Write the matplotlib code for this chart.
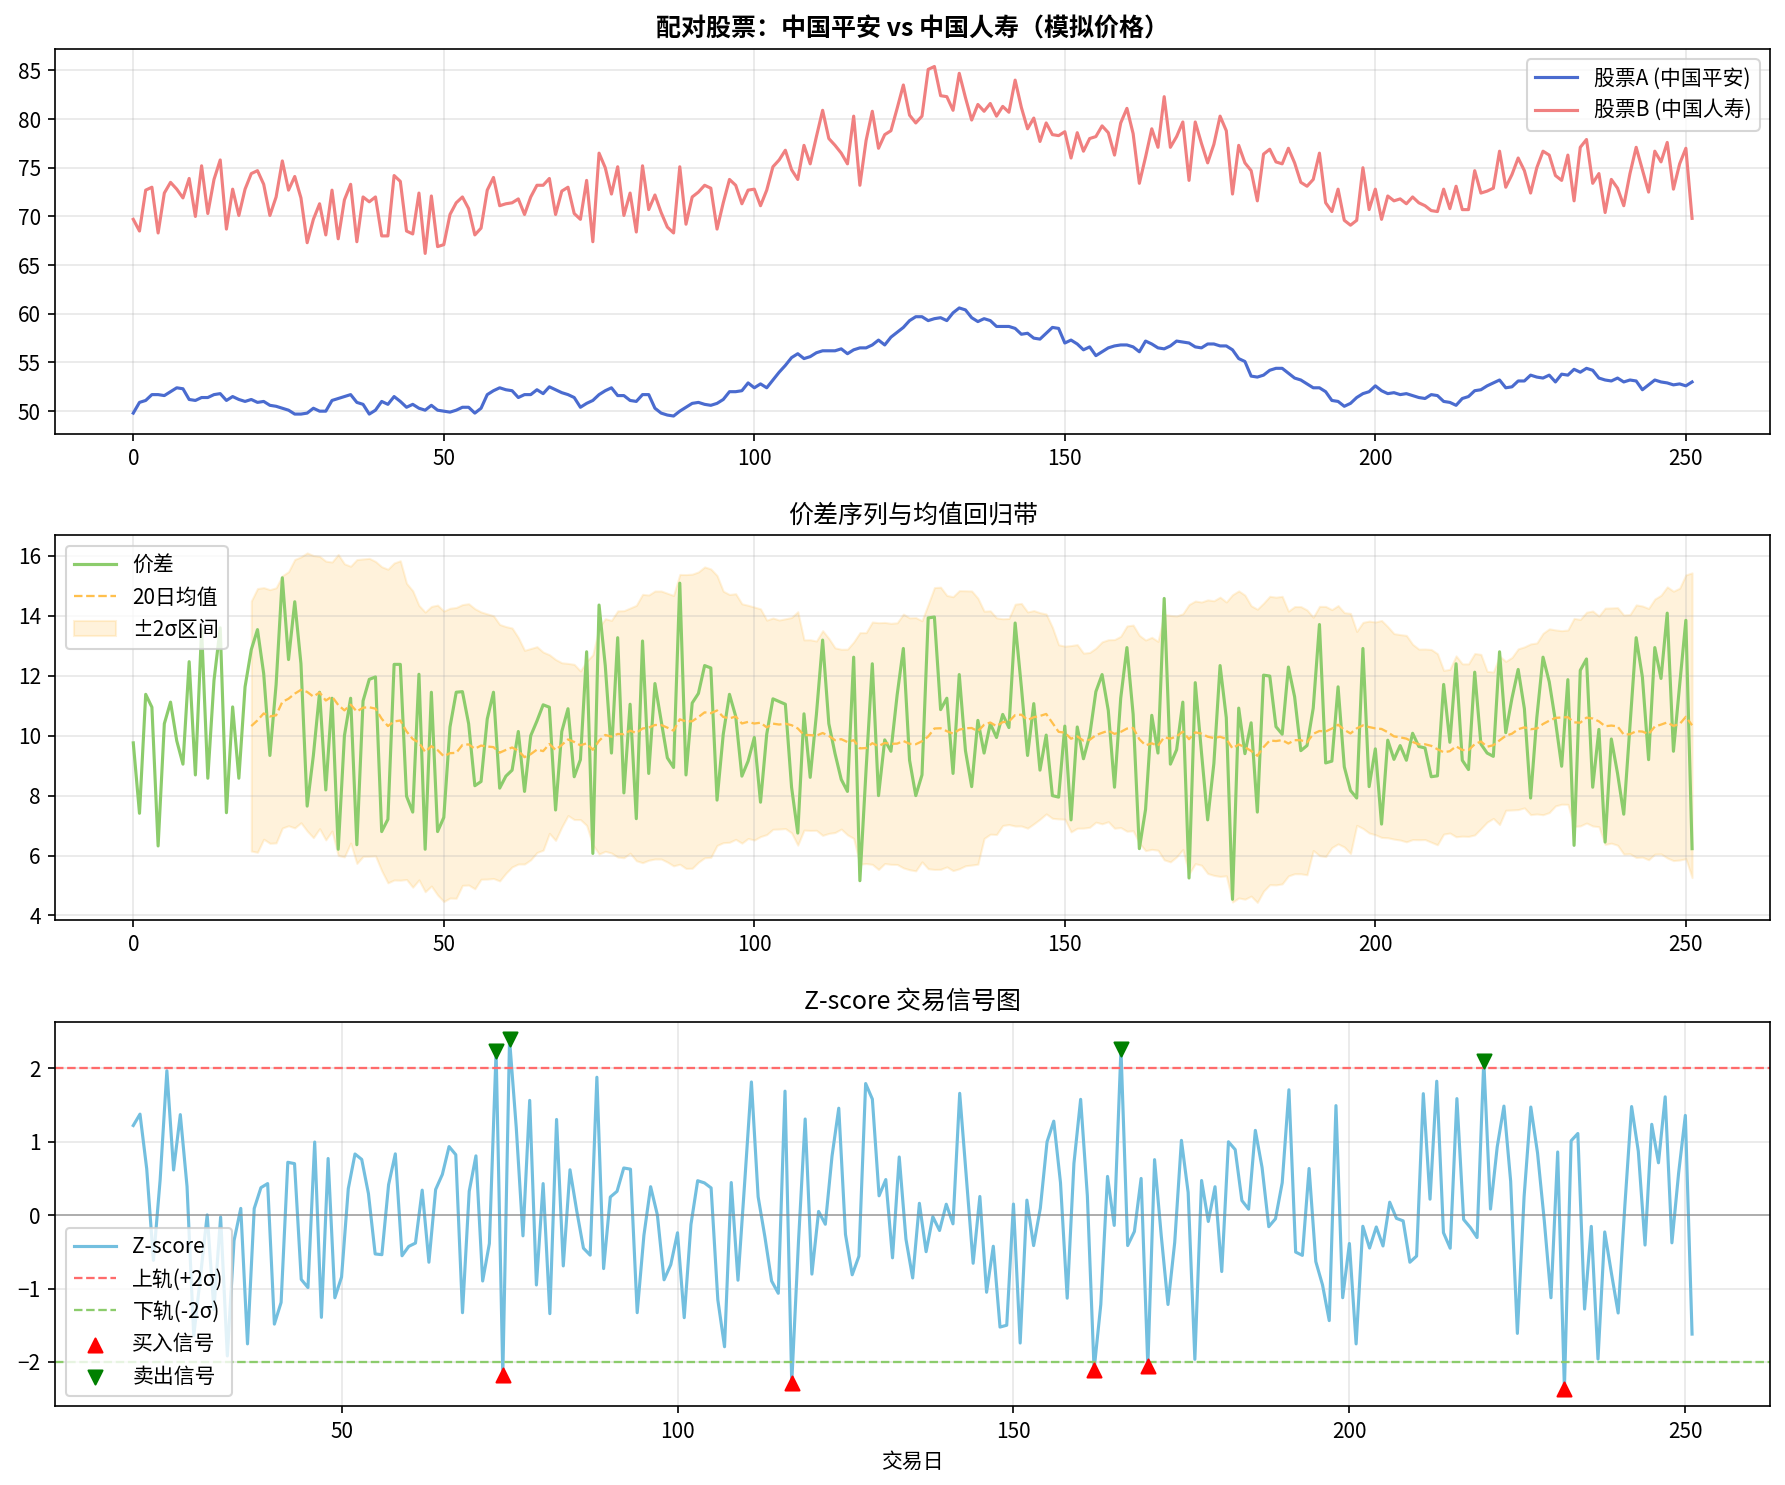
"""
Pair-trading chart: two simulated stock prices, spread band and z-score signals.
"""
import numpy as np
import pandas as pd
import matplotlib

matplotlib.use("Agg")
import matplotlib.pyplot as plt

plt.rcParams["font.family"] = ["Noto Sans CJK SC", "DejaVu Sans"]
plt.rcParams["axes.unicode_minus"] = True

# values (trading days 0..251)
stock_a = [
    49.8, 50.9, 51.1, 51.7, 51.7, 51.6, 52.0, 52.4, 52.3, 51.2,
    51.1, 51.4, 51.4, 51.7, 51.8, 51.1, 51.5, 51.2, 51.0, 51.2,
    50.9, 51.0, 50.6, 50.5, 50.3, 50.1, 49.7, 49.7, 49.8, 50.3,
    50.0, 50.0, 51.1, 51.3, 51.5, 51.7, 50.9, 50.7, 49.7, 50.1,
    51.0, 50.7, 51.5, 51.0, 50.4, 50.7, 50.3, 50.1, 50.6, 50.1,
    50.0, 49.9, 50.1, 50.4, 50.4, 49.8, 50.3, 51.7, 52.1, 52.4,
    52.2, 52.1, 51.4, 51.7, 51.7, 52.2, 51.8, 52.5, 52.2, 51.9,
    51.7, 51.4, 50.4, 50.8, 51.1, 51.7, 52.1, 52.4, 51.6, 51.6,
    51.1, 51.0, 51.7, 51.7, 50.3, 49.8, 49.6, 49.5, 50.0, 50.4,
    50.8, 50.9, 50.7, 50.6, 50.8, 51.2, 52.0, 52.0, 52.1, 52.9,
    52.4, 52.8, 52.4, 53.2, 54.0, 54.7, 55.5, 55.9, 55.4, 55.6,
    56.0, 56.2, 56.2, 56.2, 56.4, 55.9, 56.3, 56.5, 56.5, 56.8,
    57.3, 56.8, 57.6, 58.1, 58.6, 59.3, 59.7, 59.7, 59.3, 59.5,
    59.6, 59.3, 60.1, 60.6, 60.4, 59.6, 59.2, 59.5, 59.3, 58.7,
    58.7, 58.7, 58.5, 57.9, 58.0, 57.5, 57.4, 58.0, 58.6, 58.5,
    57.0, 57.3, 56.9, 56.3, 56.6, 55.7, 56.1, 56.5, 56.7, 56.8,
    56.8, 56.6, 56.1, 57.2, 56.9, 56.5, 56.4, 56.7, 57.2, 57.1,
    57.0, 56.6, 56.5, 56.9, 56.9, 56.7, 56.7, 56.3, 55.4, 55.1,
    53.6, 53.5, 53.7, 54.2, 54.4, 54.4, 53.9, 53.4, 53.2, 52.8,
    52.4, 52.4, 52.0, 51.1, 51.0, 50.5, 50.8, 51.4, 51.8, 52.0,
    52.6, 52.1, 51.8, 51.9, 51.7, 51.8, 51.6, 51.4, 51.3, 51.7,
    51.6, 51.0, 50.9, 50.6, 51.3, 51.5, 52.1, 52.2, 52.6, 52.9,
    53.2, 52.4, 52.5, 53.1, 53.1, 53.7, 53.5, 53.4, 53.7, 53.0,
    53.8, 53.7, 54.3, 54.0, 54.4, 54.2, 53.4, 53.2, 53.1, 53.4,
    53.0, 53.2, 53.1, 52.2, 52.7, 53.2, 53.0, 52.9, 52.7, 52.8,
    52.6, 53.0,
]

stock_b = [
    69.7, 68.5, 72.7, 73.0, 68.3, 72.4, 73.5, 72.8, 71.9, 73.9,
    70.0, 75.2, 70.3, 73.8, 75.8, 68.7, 72.8, 70.1, 72.8, 74.4,
    74.7, 73.3, 70.1, 72.0, 75.7, 72.7, 74.1, 71.9, 67.3, 69.7,
    71.3, 68.1, 72.7, 67.7, 71.7, 73.3, 67.4, 72.0, 71.5, 72.0,
    68.0, 68.0, 74.2, 73.6, 68.5, 68.2, 72.4, 66.2, 72.1, 66.9,
    67.1, 70.2, 71.4, 72.0, 70.8, 68.1, 68.8, 72.7, 74.0, 71.1,
    71.3, 71.4, 71.8, 70.2, 72.0, 73.2, 73.2, 73.9, 70.2, 72.6,
    73.0, 70.3, 69.7, 73.7, 67.4, 76.5, 75.0, 72.3, 75.1, 70.1,
    72.4, 68.4, 75.2, 70.7, 72.2, 70.4, 68.9, 68.3, 75.1, 69.2,
    72.0, 72.5, 73.2, 72.9, 68.7, 71.4, 73.8, 73.2, 71.3, 72.7,
    72.8, 71.1, 72.7, 75.1, 75.8, 76.8, 74.8, 73.8, 77.3, 75.4,
    78.2, 80.9, 78.0, 77.3, 76.5, 75.4, 80.3, 73.2, 77.8, 80.8,
    77.0, 78.4, 78.8, 81.1, 83.5, 80.4, 79.6, 80.3, 85.1, 85.4,
    82.4, 82.3, 80.9, 84.7, 82.2, 79.9, 81.5, 80.8, 81.6, 80.3,
    81.3, 80.7, 84.0, 81.2, 79.0, 80.1, 77.7, 79.6, 78.4, 78.3,
    78.7, 76.0, 78.6, 76.7, 78.0, 78.2, 79.3, 78.6, 76.3, 79.6,
    81.1, 78.5, 73.4, 76.1, 79.0, 77.1, 82.3, 77.1, 78.2, 79.7,
    73.7, 79.7, 77.5, 75.5, 77.4, 80.3, 78.8, 72.3, 77.3, 75.5,
    74.7, 71.6, 76.4, 76.9, 75.6, 75.4, 77.0, 75.5, 73.5, 73.1,
    73.8, 76.5, 71.4, 70.5, 72.8, 69.6, 69.1, 69.6, 75.0, 70.7,
    72.8, 69.7, 72.1, 71.6, 71.8, 71.3, 72.0, 71.4, 71.1, 70.6,
    70.5, 72.8, 70.8, 73.1, 70.7, 70.7, 74.7, 72.4, 72.6, 72.9,
    76.7, 73.0, 74.3, 76.0, 74.7, 72.4, 75.0, 76.7, 76.3, 74.2,
    73.7, 76.3, 71.6, 77.1, 77.9, 73.4, 74.4, 70.4, 73.8, 72.9,
    71.1, 74.4, 77.1, 74.8, 72.5, 76.7, 75.6, 77.6, 72.8, 75.4,
    77.0, 69.8,
]

spread_values = [
    9.76, 7.41, 11.38, 10.95, 6.32, 10.40, 11.12, 9.83, 9.05, 12.47,
    8.69, 13.55, 8.58, 11.85, 13.60, 7.43, 10.96, 8.58, 11.63, 12.87,
    13.54, 12.07, 9.34, 11.71, 15.27, 12.54, 14.47, 12.40, 7.65, 9.34,
    11.45, 8.19, 11.25, 6.21, 10.00, 11.25, 6.36, 11.16, 11.88, 11.96,
    6.80, 7.21, 12.38, 12.38, 7.98, 7.45, 12.05, 6.21, 11.45, 6.80,
    7.27, 10.29, 11.45, 11.47, 10.40, 8.33, 8.47, 10.56, 11.45, 8.25,
    8.65, 8.85, 10.14, 8.14, 10.00, 10.49, 11.03, 10.95, 7.52, 10.14,
    10.90, 8.63, 9.20, 12.80, 6.07, 14.36, 12.34, 9.42, 13.27, 8.09,
    11.05, 7.23, 13.16, 8.74, 11.74, 10.49, 9.26, 8.94, 15.09, 8.69,
    11.09, 11.41, 12.34, 12.26, 7.85, 10.05, 11.38, 10.65, 8.65, 9.15,
    9.94, 7.78, 10.05, 11.23, 11.14, 11.05, 8.28, 6.75, 10.73, 8.61,
    10.71, 13.19, 10.40, 9.40, 8.54, 8.14, 12.62, 5.16, 8.87, 12.40,
    8.00, 9.86, 9.48, 11.36, 12.91, 9.18, 8.00, 8.69, 13.93, 13.96,
    10.87, 11.25, 8.74, 12.04, 9.50, 8.30, 10.51, 9.42, 10.40, 9.94,
    10.71, 10.27, 13.76, 11.63, 9.34, 11.07, 8.85, 10.02, 8.00, 7.95,
    10.32, 7.19, 10.29, 9.23, 10.00, 11.47, 12.04, 10.84, 8.28, 11.25,
    12.94, 10.71, 6.23, 7.54, 10.68, 9.42, 14.58, 9.05, 9.53, 11.12,
    5.25, 11.77, 9.45, 7.19, 9.07, 12.34, 10.60, 4.54, 10.92, 9.40,
    10.43, 7.45, 12.02, 11.99, 10.30, 10.05, 12.29, 11.30, 9.50, 9.67,
    10.92, 13.71, 9.09, 9.15, 11.63, 8.96, 8.17, 7.92, 12.91, 8.30,
    9.56, 7.05, 9.85, 9.21, 9.67, 9.18, 10.08, 9.64, 9.59, 8.63,
    8.66, 11.71, 9.78, 12.40, 9.18, 8.87, 12.12, 9.72, 9.42, 9.31,
    12.80, 10.10, 11.25, 12.21, 10.90, 7.92, 10.60, 12.62, 11.80, 10.49,
    8.98, 11.87, 6.34, 12.18, 12.56, 8.28, 10.21, 6.45, 9.89, 8.74,
    7.38, 10.32, 13.27, 11.96, 9.20, 12.94, 11.91, 14.09, 9.48, 11.69,
    13.85, 6.23,
]

WINDOW = 20
ENTRY = 2.0

days = np.arange(len(stock_a))
spread = pd.Series(spread_values, index=days)
roll_mean = spread.rolling(WINDOW).mean()
roll_std = spread.rolling(WINDOW).std()
zscore = (spread - roll_mean) / roll_std

buy = zscore[zscore < -ENTRY]
sell = zscore[zscore > ENTRY]

fig, axes = plt.subplots(3, 1, figsize=(11.9, 9.9), dpi=150)
fig.subplots_adjust(left=0.031, right=0.9916, top=0.967, bottom=0.053, hspace=0.265)

# panel 1: prices
ax = axes[0]
ax.plot(days, stock_a, color="#4a6bcf", lw=1.5, label="股票A (中国平安)")
ax.plot(days, stock_b, color="#f08080", lw=1.5, label="股票B (中国人寿)")
ax.set_title("配对股票：中国平安 vs 中国人寿（模拟价格）", fontweight="bold")
ax.legend(loc="upper right")
ax.grid(True, alpha=0.3)

# panel 2: spread with rolling band
ax = axes[1]
ax.plot(days, spread, color="#8ccc6c", lw=1.5, label="价差")
ax.plot(days, roll_mean, color="#ffc04d", lw=1.1, ls="--", label="20日均值")
ax.fill_between(days, roll_mean - 2 * roll_std, roll_mean + 2 * roll_std,
                color="orange", alpha=0.14, label="±2σ区间")
ax.set_title("价差序列与均值回归带")
ax.legend(loc="upper left")
ax.grid(True, alpha=0.3)

# panel 3: z-score and signals
ax = axes[2]
ax.plot(days, zscore, color="#73bfdf", lw=1.5, label="Z-score")
ax.axhline(ENTRY, color="#ff6b6b", ls="--", lw=1.1, label="上轨(+2σ)")
ax.axhline(-ENTRY, color="#8ccc6c", ls="--", lw=1.1, label="下轨(-2σ)")
ax.axhline(0, color="gray", alpha=0.6, lw=0.9)
ax.scatter(buy.index, buy.values, marker="^", color="red", s=45, zorder=5, label="买入信号")
ax.scatter(sell.index, sell.values, marker="v", color="green", s=45, zorder=5, label="卖出信号")
ax.set_title("Z-score 交易信号图")
ax.set_xlabel("交易日")
ax.legend(loc="lower left")
ax.grid(True, alpha=0.3)

fig.savefig("out.png", dpi=150)
